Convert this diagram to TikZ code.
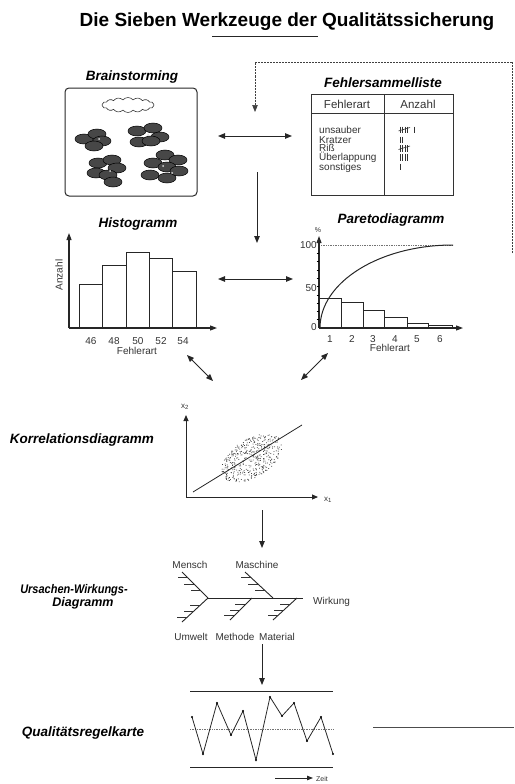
\documentclass[tikz,border=0pt]{standalone}
\usepackage{fontspec}
\setmainfont{Liberation Sans}
\usetikzlibrary{arrows.meta,shapes.symbols,calc}

\tikzset{
  ln/.style={line width=0.9pt, black!85},
  tip/.tip={Triangle[length=7pt,width=5.5pt]},
  arr/.style={ln, -tip},
  darr/.style={ln, tip-tip},
  heading/.style={font=\fontsize{13.5}{15}\selectfont\bfseries\itshape, inner sep=0pt},
  small/.style={font=\fontsize{10}{11}\selectfont, text=black!80, inner sep=0pt},
  tiny/.style={font=\fontsize{8}{9}\selectfont, text=black!80, inner sep=0pt},
  barbox/.style={draw=black!85, line width=0.9pt, fill=white},
  seed/.style={draw=black, line width=0.5pt, fill=black!72},
  rib/.style={line width=0.7pt, black!80},
}

\begin{document}
\begin{tikzpicture}[x=1pt,y=-1pt]
\useasboundingbox (0,0) rectangle (514,784);

% ---------- title ----------
\node[font=\fontsize{19}{22}\selectfont\bfseries, anchor=base, inner sep=0pt] (title) at (287,27) {Die Sieben Werkzeuge der Qualitätssicherung};
\draw[ln, line width=1pt] (212,37) -- (318,37);

% ---------- Brainstorming ----------
\node[heading, anchor=base] (bsT) at (132,81) {Brainstorming};
\draw[line width=1pt, black!85, rounded corners=4pt] (65,88) rectangle (197,196);
\node[cloud, draw=black!80, line width=0.6pt, cloud puffs=16, cloud puff arc=100, aspect=3.6,
      minimum width=52pt, minimum height=15pt, inner sep=0pt] (cloud) at (128,105) {};
\foreach \p in {(84,139),(97,134),(102,141),(94,146),
                (137,131),(153,128),(160,137),(139,142),(151,141),
                (98,163),(112,160),(117,168),(96,173),(108,175),(113,182),
                (165,155),(178,160),(153,163),(167,167),(150,175),(167,178),(179,171)}
  \filldraw[seed] \p ellipse (9pt and 5pt);
\foreach \p in {(99,139),(148,135),(110,171),(163,166),(172,173)}
  \fill[white!85!black] \p circle (1pt);

% ---------- Fehlersammelliste ----------
\node[heading, anchor=base] (flT) at (383,88) {Fehlersammelliste};
\draw[line width=1pt, black!80] (311,94) rectangle (453,195);
\draw[line width=0.8pt, black!80] (311,113) -- (453,113) (384,94) -- (384,195);
\node[font=\fontsize{11.5}{12}\selectfont, text=black!80, anchor=base] (hA) at (347,108) {Fehlerart};
\node[font=\fontsize{11.5}{12}\selectfont, text=black!80, anchor=base] (hB) at (418,108) {Anzahl};
\node[small, anchor=base west] (r1) at (319,133.5) {unsauber};
\node[small, anchor=base west] (r2) at (319,143) {Kratzer};
\node[small, anchor=base west] (r3) at (319,151.5) {Riß};
\node[small, anchor=base west] (r4) at (319,160.5) {Überlappung};
\node[small, anchor=base west] (r5) at (319,170) {sonstiges};
% tally marks
\begin{scope}[line width=0.6pt, black!80]
  \foreach \x in {0,2.4,4.8,7.2} \draw (400+\x,126.5) -- (400+\x,133);
  \draw (398.5,131) -- (410,127.5);
  \draw (414,126.5) -- (414,133);
  \foreach \x in {0,2.4} \draw (400+\x,136.5) -- (400+\x,143);
  \foreach \x in {0,2.4,4.8,7.2} \draw (400+\x,145) -- (400+\x,151.5);
  \draw (398.5,149.5) -- (410,146);
  \foreach \x in {0,2.4,4.8,7.2} \draw (400+\x,154) -- (400+\x,160.5);
  \draw (400,163.5) -- (400,170);
\end{scope}

% dashed return path along the top and right edge
\coordinate (dStart) at (512.5,253);
\coordinate (dTop) at (255,112);
\draw[line width=0.7pt, black!75, dash pattern=on 2pt off 1pt, -tip]
  (dStart) -- (512.5,62) -- (255,62) -- (dTop);

% connectors of the upper block
\coordinate (c1a) at (218,136); \coordinate (c1b) at (292,136);
\draw[darr] (c1a) -- (c1b);
\coordinate (c2a) at (257,172); \coordinate (c2b) at (257,243);
\draw[arr] (c2a) -- (c2b);
\coordinate (c3a) at (218,279); \coordinate (c3b) at (293,279);
\draw[darr] (c3a) -- (c3b);
\coordinate (c4a) at (187,355); \coordinate (c4b) at (213,381);
\draw[darr] (c4a) -- (c4b);
\coordinate (c5a) at (328,353); \coordinate (c5b) at (301,380);
\draw[darr] (c5a) -- (c5b);

% ---------- Histogramm ----------
\node[heading, anchor=base] (hiT) at (138,227) {Histogramm};
\draw[barbox] (79,328) rectangle (102,284);
\draw[barbox] (102,328) rectangle (126,265);
\draw[barbox] (126,328) rectangle (149,252);
\draw[barbox] (149,328) rectangle (172,258);
\draw[barbox] (172,328) rectangle (196,271);
\coordinate (hO) at (69,328);
\draw[ln, line width=1.1pt, -{Triangle[length=7pt,width=5pt]}] (hO) -- (69,233);
\draw[ln, line width=1.1pt, -{Triangle[length=7pt,width=5pt]}] (hO) -- (217,328);
\foreach \x/\l in {91/46,114/48,138/50,161/52,183/54}
  \node[small, anchor=base] at (\x,344) {\l};
\node[small, anchor=base] (hiX) at (137,354) {Fehlerart};
\node[small, rotate=90] (hiY) at (59,275) {Anzahl};

% ---------- Paretodiagramm ----------
\node[heading, anchor=base] (paT) at (391,223) {Paretodiagramm};
\draw[barbox] (319,328) rectangle (341,298);
\draw[barbox] (341,328) rectangle (363,302);
\draw[barbox] (363,328) rectangle (384,310);
\draw[barbox] (384,328) rectangle (407,317);
\draw[barbox] (407,328) rectangle (428,323);
\draw[barbox] (428,328) rectangle (452,325);
\draw[black!55, line width=0.7pt, densely dotted] (321,245) -- (453,245);
\coordinate (pO) at (319,328);
\draw[ln, line width=1.1pt, -{Triangle[length=7pt,width=5pt]}] (pO) -- (319,236);
\draw[ln, line width=1.1pt, -{Triangle[length=7pt,width=5pt]}] (pO) -- (463,328);
\foreach \k in {1,...,9} \draw[line width=0.6pt] (316.5,328-8.3*\k) -- (319,328-8.3*\k);
\node[small, anchor=east] at (317,245) {100};
\node[small, anchor=east] at (317,288) {50};
\node[small, anchor=east] at (317,327) {0};
\node[tiny, font=\fontsize{7}{8}\selectfont] (pct) at (318,230) {\%};
\draw[line width=1pt, black!85] (320,328) arc[start angle=180, end angle=90, x radius=133pt, y radius=83pt];
\foreach \x/\l in {330/1,352/2,373/3,395/4,417/5,440/6}
  \node[small, anchor=base] at (\x,342) {\l};
\node[small, anchor=base] (paX) at (390,351) {Fehlerart};

% ---------- Korrelationsdiagramm ----------
\node[heading, anchor=base east] (koT) at (154,443) {Korrelationsdiagramm};
\coordinate (kO) at (186,497);
\draw[ln, -{Triangle[length=6pt,width=5pt]}] (kO) -- (186,415);
\draw[ln, -{Triangle[length=6pt,width=5pt]}] (kO) -- (318,497);
\node[tiny] (kx2) at (185,407) {x\textsubscript{2}};
\node[tiny] (kx1) at (328,500) {x\textsubscript{1}};
\begin{scope}[shift={(252,458)}, rotate=32]
  \pgfmathsetseed{4711}
  \foreach \i in {1,...,420}{
    \pgfmathsetmacro\rr{sqrt(rnd)}
    \pgfmathsetmacro\tt{360*rnd}
    \fill[black!75] ({34*\rr*cos(\tt)},{19*\rr*sin(\tt)}) circle (0.55pt);
  }
\end{scope}
\draw[line width=0.8pt, black!85] (193,492) -- (302,425);
\coordinate (c6a) at (262,510); \coordinate (c6b) at (262,548);
\draw[arr] (c6a) -- (c6b);

% ---------- Ursachen-Wirkungs-Diagramm ----------
\node[heading, font=\fontsize{12.5}{14}\selectfont\bfseries\itshape, anchor=base] (uwT1) at (74,593) {\scalebox{0.88}[1]{Ursachen-Wirkungs-}};
\node[heading, font=\fontsize{12.5}{14}\selectfont\bfseries\itshape, anchor=base] (uwT2) at (83,606) {Diagramm};
\draw[line width=0.9pt, black!85] (208,598) -- (303,598);
\node[small, anchor=base west] (wirk) at (313,604) {Wirkung};
% upper bones
\draw[line width=0.9pt, black!85] (182,572) -- (208,598);
\foreach \f in {0.22,0.47,0.72} \draw[rib] ($(182,572)!\f!(208,598)$) -- ++(-10,0);
\draw[line width=0.9pt, black!85] (245,572) -- (273,598);
\foreach \f in {0.22,0.47,0.72} \draw[rib] ($(245,572)!\f!(273,598)$) -- ++(-10,0);
% lower bones
\draw[line width=0.9pt, black!85] (208,598) -- (182,622);
\foreach \f in {0.3,0.55,0.8} \draw[rib] ($(208,598)!\f!(182,622)$) -- ++(-10,0);
\draw[line width=0.9pt, black!85] (252,598) -- (230,620);
\foreach \f in {0.3,0.55,0.8} \draw[rib] ($(252,598)!\f!(230,620)$) -- ++(-10,0);
\draw[line width=0.9pt, black!85] (297,598) -- (273,620);
\foreach \f in {0.3,0.55,0.8} \draw[rib] ($(297,598)!\f!(273,620)$) -- ++(-10,0);
\node[small, anchor=base] (men) at (190,568) {Mensch};
\node[small, anchor=base] (mas) at (257,568) {Maschine};
\node[small, anchor=base] (umw) at (191,640) {Umwelt};
\node[small, anchor=base] (met) at (235,640) {Methode};
\node[small, anchor=base] (mat) at (277,640) {Material};
\coordinate (c7a) at (262,644); \coordinate (c7b) at (262,685);
\draw[arr] (c7a) -- (c7b);

% ---------- Qualitätsregelkarte ----------
\node[heading, anchor=base] (qrT) at (83,736) {Qualitätsregelkarte};
\draw[line width=1pt, black!85] (190,691) -- (333,691);
\draw[line width=1pt, black!85] (190,767) -- (333,767);
\draw[black!55, line width=0.7pt, densely dotted] (190,729) -- (333,729);
\draw[line width=0.8pt, black!85]
  (192,717) -- (203,754) -- (217,703) -- (231,735) -- (243,711) -- (256,760)
  -- (270,697) -- (282,716) -- (294,703) -- (307,741) -- (321,717) -- (333,754);
\foreach \p in {(192,717),(203,754),(217,703),(231,735),(243,711),(256,760),
                (270,697),(282,716),(294,703),(307,741),(321,717),(333,754)}
  \fill \p circle (1.1pt);
\coordinate (zA) at (275,778); \coordinate (zB) at (313,778);
\draw[ln, -{Triangle[length=6pt,width=4.5pt]}] (zA) -- (zB);
\node[tiny, font=\fontsize{7}{8}\selectfont, anchor=west] (zeit) at (316,779) {Zeit};
\draw[line width=0.8pt, black!70] (373,727) -- (514,727);
\end{tikzpicture}
\end{document}
